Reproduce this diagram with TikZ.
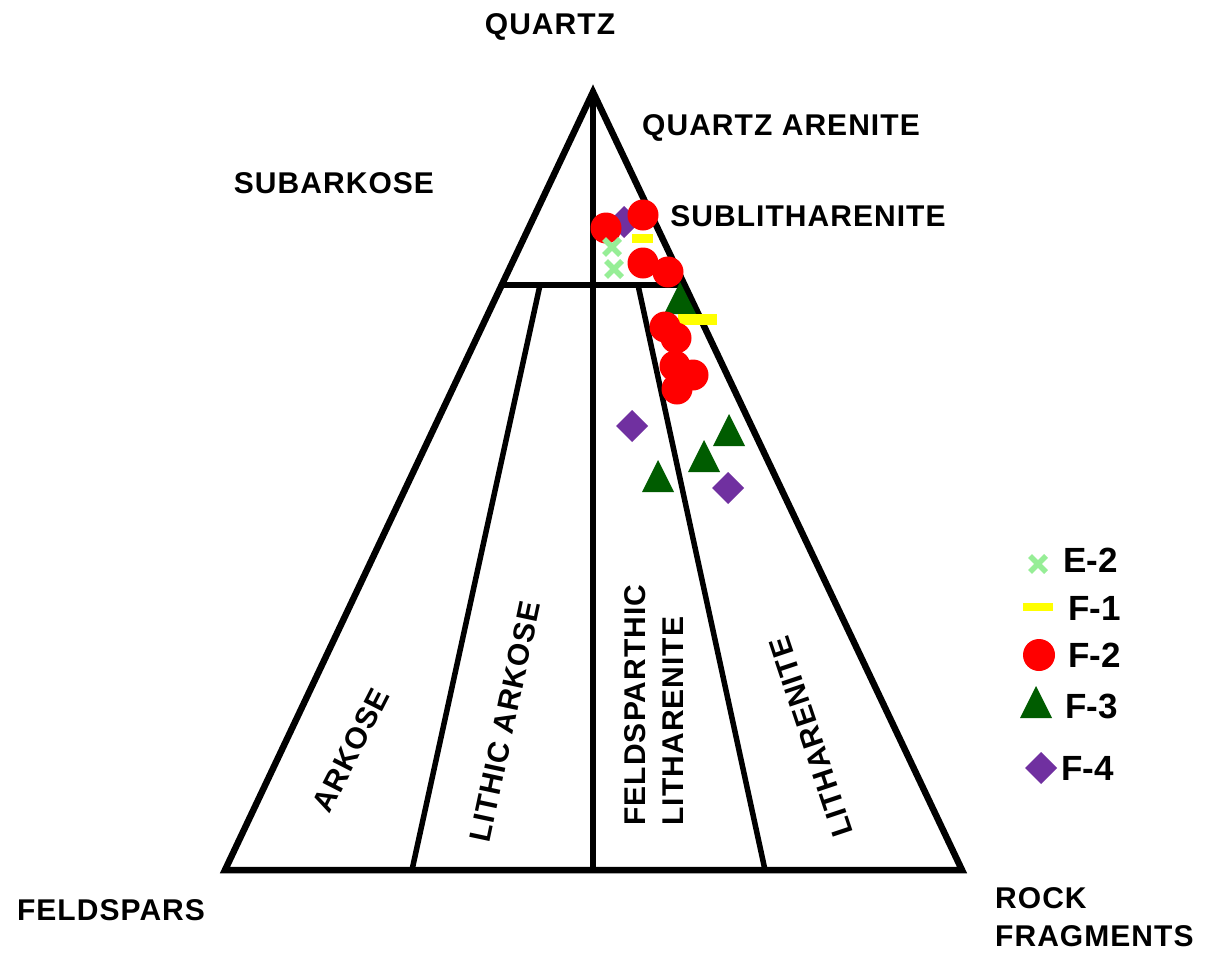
\documentclass[tikz,border=0pt]{standalone}
\usepackage{fontspec}
\usetikzlibrary{calc}
\newfontfamily\labfont{Liberation Sans}[LetterSpace=3.5]
\newfontfamily\legfont{Liberation Sans}
\definecolor{ptred}{RGB}{255,0,0}
\definecolor{ptyel}{RGB}{255,255,0}
\definecolor{ptgrn}{RGB}{0,92,0}
\definecolor{ptpur}{RGB}{112,48,160}
\definecolor{ptlgr}{RGB}{150,238,150}
\newcommand\mkdot[2]{\fill[ptred] (#1,#2) circle (15.5);}
\newcommand\mktri[2]{\fill[ptgrn,shift={(#1,#2)}] (0,-17) -- (16,15) -- (-16,15) -- cycle;}
\newcommand\mkdia[2]{\fill[ptpur,shift={(#1,#2)}] (-16,0) -- (0,-16) -- (16,0) -- (0,16) -- cycle;}
\newcommand\mkbar[4]{\fill[ptyel,shift={(#1,#2)}] (-#3/2,-#4/2) rectangle (#3/2,#4/2);}
\newcommand\mkx[2]{\draw[ptlgr,line width=5.5pt,shift={(#1,#2)}] (-8,-8) -- (8,8) (-8,8) -- (8,-8);}
\begin{document}
\begin{tikzpicture}[x=1pt,y=-1pt,
  lbl/.style={font=\labfont\bfseries\fontsize{30}{38}\selectfont, inner sep=0pt},
  leg/.style={font=\legfont\bfseries\fontsize{35}{40}\selectfont, inner sep=0pt, anchor=west},
  outer/.style={line width=6.5pt, line join=miter},
  innerline/.style={line width=5.5pt}]
\useasboundingbox[fill=white] (0,0) rectangle (1218,953);
% triangle geometry
\coordinate (Q) at (593,92);
\coordinate (F) at (225,870);
\coordinate (R) at (962,870);
\coordinate (B) at (593,870);
\coordinate (HL) at ($(Q)!0.2481!(F)$);
\coordinate (HR) at ($(Q)!0.2481!(R)$);
\coordinate (IL1) at (540,285);
\coordinate (IL2) at (412,870);
\coordinate (IR1) at (638,285);
\coordinate (IR2) at (765,870);
\draw[outer] (Q) -- (F) -- (R) -- cycle;
\draw[outer] (Q) -- (B);
\draw[outer] (HL) -- (HR);
\draw[innerline] (IL1) -- (IL2);
\draw[innerline] (IR1) -- (IR2);
% labels
\node[lbl] (tq) at (550,27) {QUARTZ};
\node[lbl] (tqa) at (781,128) {QUARTZ ARENITE};
\node[lbl] (tsa) at (334,183) {SUBARKOSE};
\node[lbl] (tsl) at (808,216) {SUBLITHARENITE};
\node[lbl] (tfs) at (111,910) {FELDSPARS};
\node[lbl, anchor=west, align=left] (trf) at (995,917) {ROCK\\FRAGMENTS};
\node[lbl, rotate=63] (tark) at (351,750) {ARKOSE};
\node[lbl, rotate=78] (tla) at (505,722) {LITHIC ARKOSE};
\node[lbl, rotate=90, align=left] (tfl) at (654,705) {FELDSPARTHIC\\LITHARENITE};
\node[lbl, rotate=108.5] (tlit) at (811,737) {LITHARENITE};
% data points
\mkdia{624}{222}
\mkdia{632}{426}
\mkdia{728}{488}
\mktri{680}{299}
\mktri{729}{431}
\mktri{704}{457}
\mktri{658}{477}
\mkbar{642}{238}{21}{9}
\mkbar{697}{319}{39}{11}
\mkdot{606}{228}
\mkdot{643}{215}
\mkdot{643}{263}
\mkdot{668}{272}
\mkdot{665}{327}
\mkdot{676}{338}
\mkdot{675}{366}
\mkdot{693}{375}
\mkdot{677}{389}
\mkx{612}{247}
\mkx{614}{269}
% legend
\mkx{1038}{564}
\mkbar{1038}{607}{30}{8}
\fill[ptred] (1039,655) circle (16);
\mktri{1036}{703}
\mkdia{1041}{768}
\node[leg] (le2) at (1063,560) {E-2};
\node[leg] (lf1) at (1068,608) {F-1};
\node[leg] (lf2) at (1068,655) {F-2};
\node[leg] (lf3) at (1065,706) {F-3};
\node[leg] (lf4) at (1061,768) {F-4};
\end{tikzpicture}
\end{document}
